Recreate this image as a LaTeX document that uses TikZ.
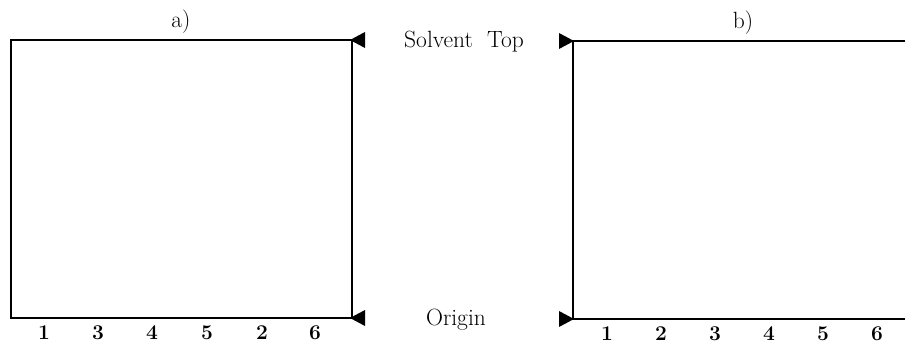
\documentclass[tikz,border=0pt]{standalone}
\usepackage{fontspec}
\begin{document}
\begin{tikzpicture}[x=1pt,y=-1pt,
  edge/.style={line width=1.3pt},
  marker/.style={fill=black},
  lbl/.style={inner sep=0pt,font=\fontsize{23.5}{27}\selectfont},
  lane/.style={inner sep=0pt,font=\fontsize{21}{25}\selectfont\bfseries}]
\useasboundingbox (0,0) rectangle (905,344);

% plate a): solvent runs up, markers on the right edge
\coordinate (aTL) at (11,40);
\coordinate (aTR) at (352,40);
\coordinate (aBL) at (11,318);
\coordinate (aBR) at (352,318);
\draw[edge] (aBL) -- (aTL) -- (aTR) -- (aBR) -- cycle;
\fill[marker] (aTR) ++(-2,0) -- ++(15,-8) -- ++(0,16) -- cycle;
\fill[marker] (aBR) ++(-2,0) -- ++(15,-8) -- ++(0,16) -- cycle;
\node[lbl] (alabel) at (181,22) {a)};

% plate b): open to the right, markers on the left edge
\coordinate (bTL) at (573,41);
\coordinate (bTR) at (905,41);
\coordinate (bBL) at (573,319);
\coordinate (bBR) at (905,319);
\draw[edge] (bTR) -- (bTL) -- (bBL) -- (bBR);
\fill[marker] (bTL) ++(1,0) -- ++(-15,-8) -- ++(0,16) -- cycle;
\fill[marker] (bBL) ++(1,0) -- ++(-15,-8) -- ++(0,16) -- cycle;
\node[lbl] (blabel) at (743,23) {b)};

% row labels between the plates
\node[lbl] (top) at (464,42) {Solvent~~Top};
\node[lbl] (origin) at (456,320) {Origin};

% lane numbers
\foreach \x/\n [count=\i] in {44/1,98/3,152/4,207/5,262/2,315/6}
  \node[lane] (a\i) at (\x,333) {\n};
\foreach \x/\n [count=\i] in {607/1,661/2,715/3,769/4,823/5,877/6}
  \node[lane] (b\i) at (\x,334) {\n};
\end{tikzpicture}
\end{document}
